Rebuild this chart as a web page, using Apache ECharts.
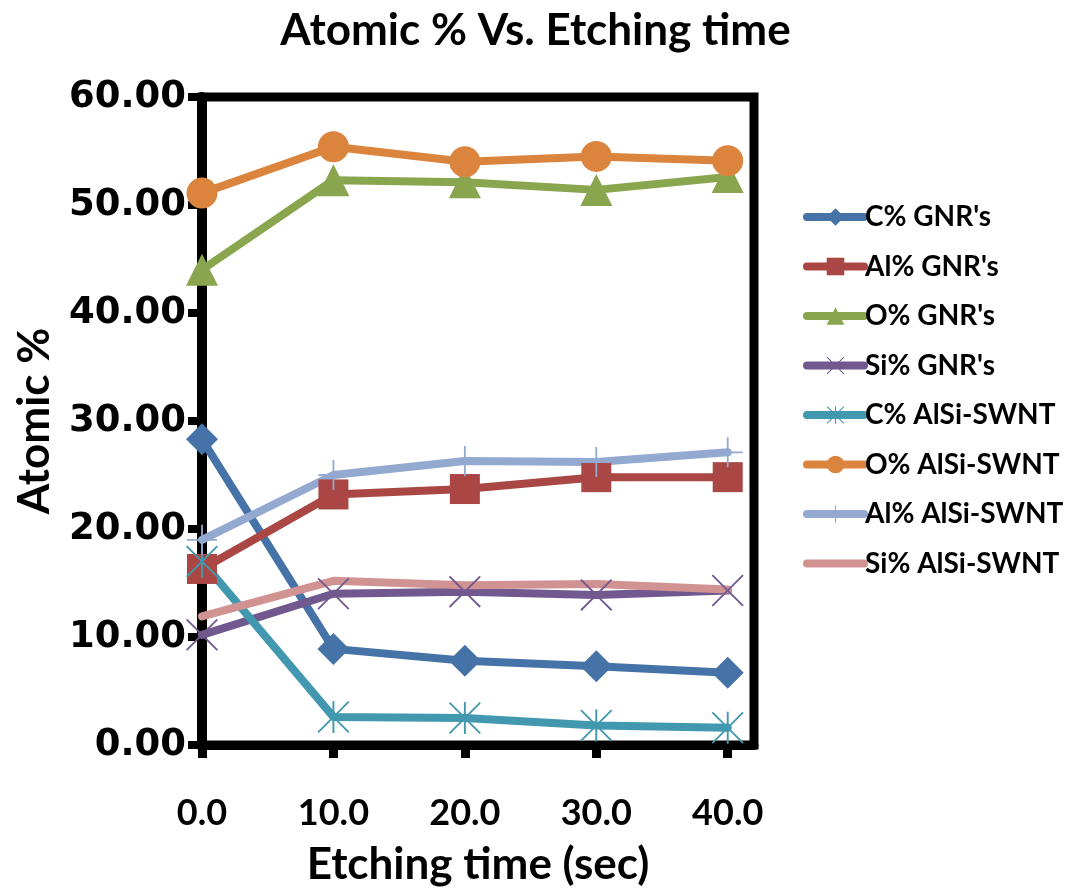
<!DOCTYPE html>
<html>
<head>
<meta charset="utf-8">
<script src="https://cdn.jsdelivr.net/npm/echarts@6/dist/echarts.min.js"></script>
<style>
  html, body { margin: 0; padding: 0; background: #ffffff; }
  #chart { width: 1071px; height: 892px; }
</style>
</head>
<body>
<div id="chart"></div>
<script>
// Etching time (sec) and atomic percentages per element
const etchingTime = [0, 10, 20, 30, 40];
const xTickValues = [0, 10, 20, 30, 40];
const yTickValues = [0, 10, 20, 30, 40, 50, 60];

const seriesNames = [
  "C% GNR's", "Al% GNR's", "O% GNR's", "Si% GNR's",
  "C% AlSi-SWNT", "O% AlSi-SWNT", "Al% AlSi-SWNT", "Si% AlSi-SWNT"
];
const cGnr   = [28.3, 8.9, 7.8, 7.3, 6.7];
const alGnr  = [16.3, 23.2, 23.7, 24.8, 24.8];
const oGnr   = [44.0, 52.3, 52.1, 51.4, 52.6];
const siGnr  = [10.2, 14.0, 14.2, 13.9, 14.3];
const cSwnt  = [17.0, 2.6, 2.5, 1.8, 1.6];
const oSwnt  = [51.1, 55.4, 54.0, 54.5, 54.1];
const alSwnt = [19.0, 25.0, 26.3, 26.2, 27.1];
const siSwnt = [11.9, 15.2, 14.8, 14.9, 14.4];

const seriesValues = [cGnr, alGnr, oGnr, siGnr, cSwnt, oSwnt, alSwnt, siSwnt];
const colors = ['#4572A7', '#AA4643', '#89A54E', '#71588F', '#4198AF', '#DB843D', '#93A9CF', '#D19392'];

// Thin-stroke marker shapes built as filled outlines
const X_MARK = 'path://M0,4L4,0L50,46L96,0L100,4L54,50L100,96L96,100L50,54L4,100L0,96L46,50Z';
const STAR_MARK = X_MARK + 'M47,0L53,0L53,100L47,100Z';
const PLUS_MARK = 'path://M47,0L53,0L53,100L47,100ZM0,47L100,47L100,53L0,53Z';

const symbols = ['diamond', 'rect', 'triangle', X_MARK, STAR_MARK, 'circle', PLUS_MARK, 'none'];
const symbolSizes = [32, 30, 32, 32, 32, 31, 30, 0];

const FONT_NARROW = 'Lato';
const FONT_WIDE = 'DejaVu Sans';

const chart = echarts.init(document.getElementById('chart'), null, { renderer: 'canvas' });

const series = seriesNames.map((name, i) => ({
  name: name,
  type: 'line',
  data: etchingTime.map((t, j) => [t, seriesValues[i][j]]),
  symbol: symbols[i],
  symbolSize: symbolSizes[i],
  showSymbol: symbols[i] !== 'none',
  clip: false,
  animation: false,
  lineStyle: { color: colors[i], width: 8, cap: 'round', join: 'round' },
  itemStyle: { color: colors[i], borderWidth: 0 },
  emphasis: { disabled: true }
}));

const option = {
  backgroundColor: '#ffffff',
  animation: false,
  title: {
    text: 'Atomic % Vs. Etching time',
    left: 'center',
    top: 4,
    textStyle: { fontFamily: FONT_NARROW, fontWeight: 'bold', fontSize: 44, color: '#000' }
  },
  legend: {
    orient: 'vertical',
    left: 803,
    top: 203,
    padding: 0,
    itemWidth: 57,
    itemHeight: 22,
    itemGap: 21.5,
    selectedMode: false,
    data: seriesNames.map((n, i) => i === 7 ? { name: n, itemStyle: { opacity: 0 } } : { name: n }),
    lineStyle: { width: 8, cap: 'round' },
    textStyle: { fontFamily: FONT_NARROW, fontWeight: 'bold', fontSize: 28, color: '#000', padding: [0, 0, 0, -4] }
  },
  grid: {
    left: 202,
    top: 97,
    right: 1071 - 754,
    bottom: 892 - 746,
    show: true,
    borderWidth: 9,
    borderColor: '#000',
    backgroundColor: 'transparent',
    containLabel: false
  },
  xAxis: {
    type: 'value',
    min: 0,
    max: 42,
    interval: 10,
    name: 'Etching time (sec)',
    nameLocation: 'middle',
    nameGap: 98,
    nameTextStyle: { fontFamily: FONT_NARROW, fontWeight: 'bold', fontSize: 44, color: '#000' },
    axisLine: { lineStyle: { color: '#000', width: 9 } },
    axisTick: { show: true, inside: false, length: 13, customValues: xTickValues, lineStyle: { color: '#000', width: 9 } },
    axisLabel: {
      customValues: xTickValues,
      margin: 50,
      fontFamily: FONT_NARROW, fontWeight: 'bold', fontSize: 36, color: '#000',
      formatter: v => v.toFixed(1)
    },
    splitLine: { show: false }
  },
  yAxis: {
    type: 'value',
    min: 0,
    max: 60,
    interval: 10,
    name: 'Atomic %',
    nameLocation: 'middle',
    nameGap: 145,
    nameTextStyle: { fontFamily: FONT_NARROW, fontWeight: 'bold', fontSize: 44, color: '#000' },
    axisLine: { show: true, lineStyle: { color: '#000', width: 10 } },
    axisTick: { show: true, inside: false, length: 14, lineStyle: { color: '#000', width: 8 } },
    axisLabel: {
      customValues: yTickValues,
      margin: 16,
      fontFamily: FONT_WIDE, fontWeight: 'bold', fontSize: 37, color: '#000',
      formatter: v => v.toFixed(2)
    },
    splitLine: { show: false }
  },
  series: series
};

chart.setOption(option);
</script>
</body>
</html>
